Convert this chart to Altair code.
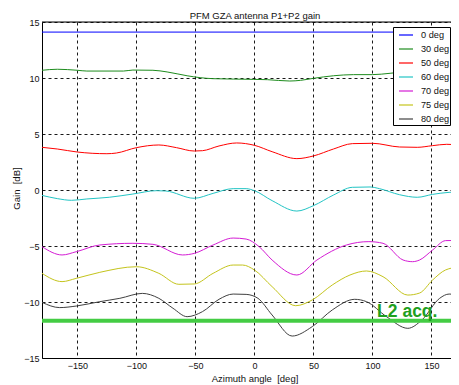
import altair as alt
import pandas as pd

series_names = ["0 deg", "30 deg", "50 deg", "60 deg", "70 deg", "75 deg", "80 deg"]
series_colors = ["#0000ff", "#1e8c1e", "#ff0000", "#22c4c4", "#d41cd4", "#c4c41c", "#404040"]

az_0 = [-180, 180]
gain_0 = [14.1, 14.1]

az_30 = [-180, -167, -150, -142, -111, -103, -86, -74, -57, -46, -35, -1, 11, 30, 39, 50, 67, 84, 100, 115, 123, 150, 180]
gain_30 = [10.69, 10.78, 10.69, 10.62, 10.62, 10.71, 10.69, 10.54, 10.2, 10.03, 9.94, 9.88, 9.85, 9.73, 9.79, 9.97, 10.2, 10.3, 10.3, 10.42, 10.5, 10.55, 10.65]

az_50 = [-180, -167, -150, -125, -117, -100, -81, -66, -51, -44, -30, -15, 0, 15, 36, 50, 67, 83, 100, 123, 138, 151, 163, 173, 180]
gain_50 = [3.81, 3.66, 3.39, 3.24, 3.30, 3.78, 4.02, 3.78, 3.48, 3.51, 3.93, 4.2, 3.99, 3.42, 2.8, 3.04, 3.66, 4.14, 4.17, 3.84, 3.81, 3.96, 4.08, 4.02, 3.95]

az_60 = [-180, -167, -155, -142, -123, -103, -83, -75, -51, -35, -18, -7, 0, 15, 36, 50, 67, 83, 98, 106, 123, 138, 151, 165, 173, 180]
gain_60 = [-0.48, -0.77, -0.92, -0.8, -0.65, -0.36, -0.06, -0.09, -0.74, -0.3, 0.12, 0.12, -0.06, -0.95, -1.88, -1.4, -0.45, 0.24, 0.27, 0.12, -0.42, -0.65, -0.39, -0.21, -0.18, -0.3]

az_70 = [-180, -163, -151, -131, -103, -86, -61, -51, -35, -18, -7, 4, 15, 36, 53, 78, 97, 109, 126, 134, 140, 151, 162, 173, 180]
gain_70 = [-5.06, -5.8, -5.51, -4.91, -4.76, -4.85, -5.8, -5.66, -4.91, -4.29, -4.38, -5.06, -6.25, -7.59, -6.25, -4.91, -4.61, -4.76, -6.25, -6.4, -6.25, -5.36, -4.52, -4.5, -4.8]

az_75 = [-180, -163, -151, -131, -100, -81, -64, -51, -35, -18, -10, 0, 15, 35, 49, 66, 81, 95, 109, 130, 140, 151, 162, 173, 180]
gain_75 = [-7.44, -8.18, -7.89, -7.35, -6.85, -7.44, -8.42, -8.39, -7.44, -6.7, -6.7, -7.14, -8.63, -10.33, -9.82, -8.48, -7.59, -7.23, -7.74, -9.38, -9.2, -8.04, -7.14, -6.9, -7.2]

az_80 = [-180, -165, -151, -131, -114, -95, -81, -69, -57, -44, -30, -18, -7, 3, 15, 32, 49, 66, 85, 95, 112, 130, 142, 157, 165, 173, 180]
gain_80 = [-10.03, -10.5, -10.36, -9.97, -9.67, -9.23, -9.67, -10.56, -11.31, -10.86, -9.76, -9.29, -9.32, -9.67, -11.16, -13.04, -12.2, -10.71, -9.76, -9.97, -11.31, -12.35, -11.6, -9.67, -9.29, -9.46, -9.9]

l2_level = [-11.67]
l2_label = ["L2 acq."]
l2_label_az = [104]
l2_label_gain = [-11.3]

x_ticks = [-150, -100, -50, 0, 50, 100, 150]
y_ticks = [-15, -10, -5, 0, 5, 10, 15]

rows = []
for name, az, g in zip(series_names,
                       [az_0, az_30, az_50, az_60, az_70, az_75, az_80],
                       [gain_0, gain_30, gain_50, gain_60, gain_70, gain_75, gain_80]):
    for a, v in zip(az, g):
        rows.append({"series": name, "az": a, "gain": v})
df = pd.DataFrame(rows)

FONT = "Liberation Sans"
PLOT_W = 409
xdom = [-180, -180 + PLOT_W / 1.18]

x_enc = alt.X("az:Q", scale=alt.Scale(domain=xdom, nice=False, zero=False),
              axis=alt.Axis(values=x_ticks, grid=True, gridDash=[3, 3], gridColor="#000000",
                            gridOpacity=0.9, ticks=False, domainColor="#000000", labelPadding=3,
                            labelFontSize=9, labelColor="#111111", labelFont=FONT,
                            title="Azimuth angle\u00a0 [deg]", titleFont=FONT, titleFontSize=9.5,
                            titleFontWeight="normal", titleColor="#111111",
                            titleX=212.5, titleY=20.5, titleAlign="center", titleBaseline="middle"))
y_enc = alt.Y("gain:Q", scale=alt.Scale(domain=[-15, 15], nice=False, zero=False),
              axis=alt.Axis(values=y_ticks, grid=True, gridDash=[3, 3], gridColor="#000000",
                            gridOpacity=0.9, ticks=False, domainColor="#000000", labelPadding=3,
                            labelFontSize=9, labelColor="#111111", labelFont=FONT, format="d",
                            title="Gain\u00a0 [dB]", titleFont=FONT, titleFontSize=9.5,
                            titleFontWeight="normal", titleColor="#111111",
                            titleX=-26, titleY=166, titleAngle=270, titleAlign="center",
                            titleBaseline="middle"))

lines = alt.Chart(df).mark_line(strokeWidth=1, interpolate="monotone", clip=True).encode(
    x=x_enc, y=y_enc,
    color=alt.Color("series:N", sort=series_names,
                    scale=alt.Scale(domain=series_names, range=series_colors),
                    legend=alt.Legend(orient="none", legendX=351, legendY=5, title=None,
                                      symbolType="stroke", symbolSize=196, symbolStrokeWidth=1.2,
                                      symbolOffset=5, rowPadding=-2.33, padding=0,
                                      labelOffset=7, labelFont=FONT, labelFontSize=9.2,
                                      labelColor="#111111",
                                      labelExpr="length(datum.label) < 6 ? '\u2007' + datum.label : datum.label",
                                      strokeColor="#000000", fillColor="#ffffff")),
    order=alt.Order("az:Q"),
)

l2_df = pd.DataFrame({"gain": l2_level})
l2 = alt.Chart(l2_df).mark_rule(color="#44cc44", strokeWidth=4).encode(y="gain:Q")

txt_df = pd.DataFrame({"az": l2_label_az, "gain": l2_label_gain, "label": l2_label})
txt = alt.Chart(txt_df).mark_text(align="left", baseline="alphabetic", font=FONT, fontSize=17.5,
                                  fontWeight="bold", color="#1ea01e").encode(
    x="az:Q", y="gain:Q", text="label:N")

top = alt.Chart(pd.DataFrame({"gain": [15]})).mark_rule(color="#000000", strokeWidth=1).encode(y="gain:Q")

chart = alt.layer(lines, l2, txt, top).properties(
    width=PLOT_W, height=336,
    title=alt.TitleParams("PFM GZA antenna P1+P2 gain", font=FONT, fontSize=9.5, fontWeight="normal",
                          color="#111111", anchor="middle", dx=8.5, dy=10, offset=0,
                          baseline="alphabetic"),
    autosize=alt.AutoSizeParams(type="none"),
    padding={"left": 34, "top": 14, "right": 0, "bottom": 27},
).configure_view(stroke=None).configure(background="white")

chart.save("out.html", embed_options={"renderer": "svg", "actions": False})
